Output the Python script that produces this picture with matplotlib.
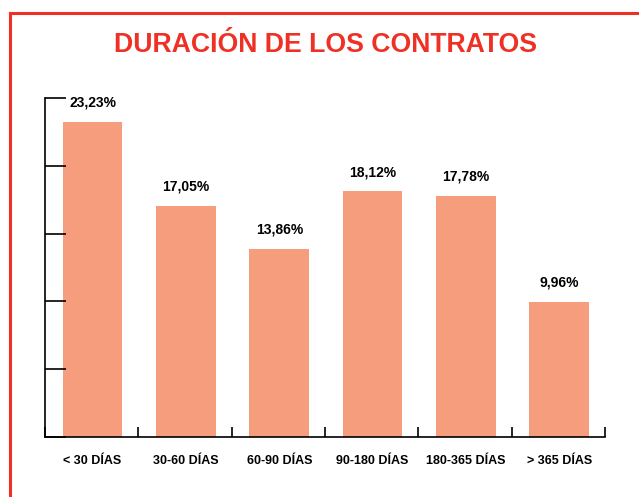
import matplotlib
matplotlib.use("Agg")
import matplotlib.pyplot as plt
from matplotlib.lines import Line2D

categories = ["< 30 DÍAS", "30-60 DÍAS", "60-90 DÍAS", "90-180 DÍAS", "180-365 DÍAS", "> 365 DÍAS"]
values = [23.23, 17.05, 13.86, 18.12, 17.78, 9.96]
labels = ["23,23%", "17,05%", "13,86%", "18,12%", "17,78%", "9,96%"]
title = "DURACIÓN DE LOS CONTRATOS"

FONT = ["Liberation Sans", "DejaVu Sans"]
plt.rcParams["font.family"] = FONT

W, H = 639, 497
fig = plt.figure(figsize=(W / 100, H / 100), dpi=100)

# red frame (cropped on right and bottom)
red = "#EE3124"
fig.add_artist(Line2D([9.5 / W, 1.05], [1 - 12.5 / H, 1 - 12.5 / H], transform=fig.transFigure, color=red, lw=2.2))
fig.add_artist(Line2D([9.5 / W, 9.5 / W], [1 - 12.5 / H, -0.05], transform=fig.transFigure, color=red, lw=2.2))

fig.text(326 / W, 1 - 45 / H, title, color=red, fontsize=19.2, fontweight="bold",
         ha="center", va="center", family=FONT)

ax = fig.add_axes([45 / W, (H - 437) / H, (605 - 45) / W, (437 - 98) / H])
n = len(categories)
pos = [i + 0.51 for i in range(n)]
ax.bar(pos, values, width=0.64, color="#F59D7D", edgecolor="none")
for p, v, lab in zip(pos, values, labels):
    ax.text(p, v + 0.9, lab, ha="center", va="bottom", fontsize=10, fontweight="bold", family=FONT)

ax.set_xlim(0, n)
ax.set_ylim(0, 25)
ax.set_yticks([0, 5, 10, 15, 20, 25])
ax.set_yticklabels([])
ax.tick_params(axis="y", direction="in", length=15, width=1.2, left=True)
ax.set_xticks(range(n + 1))
ax.set_xticklabels([])
ax.set_xticks(pos, minor=True)
ax.set_xticklabels(categories, minor=True, fontsize=9, fontweight="bold", family=FONT)
ax.tick_params(axis="x", which="major", direction="in", length=7, width=1.2)
ax.tick_params(axis="x", which="minor", length=0, pad=13)
for s in ["top", "right"]:
    ax.spines[s].set_visible(False)
for s in ["left", "bottom"]:
    ax.spines[s].set_linewidth(1.2)

fig.savefig("out.png", dpi=100)
